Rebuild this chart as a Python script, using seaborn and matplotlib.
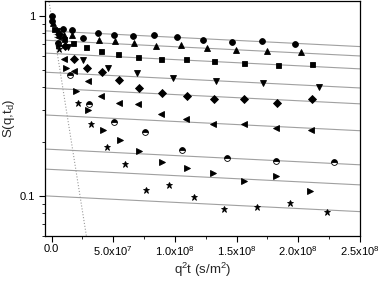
import numpy as np
import pandas as pd
import matplotlib
matplotlib.use('Agg')
import matplotlib.pyplot as plt
import seaborn as sns
from matplotlib.ticker import FixedLocator, FixedFormatter, NullFormatter

# q^2 t values in units of 1e7 s/m^2, S(q,t_d)
x_circle = [0.0, 0.05, 0.94, 1.62, 2.57, 3.74, 5.06, 6.58, 8.31, 10.20, 12.31, 14.62, 17.05, 19.76]
y_circle = [1.0, 0.938, 0.847, 0.833, 0.755, 0.798, 0.784, 0.774, 0.784, 0.761, 0.733, 0.717, 0.721, 0.696]

x_tri_up = [0.15, 1.04, 1.67, 3.82, 5.14, 6.71, 8.47, 10.50, 12.59, 14.94, 17.51, 20.22]
y_tri_up = [0.907, 0.781, 0.784, 0.730, 0.721, 0.703, 0.681, 0.688, 0.659, 0.645, 0.637, 0.626]

x_square = [0.23, 1.00, 1.75, 2.76, 4.00, 5.41, 7.03, 8.88, 10.91, 13.20, 15.61, 18.33, 21.14]
y_square = [0.844, 0.742, 0.703, 0.667, 0.639, 0.610, 0.587, 0.577, 0.573, 0.560, 0.548, 0.532, 0.539]

x_tri_down = [0.43, 1.30, 2.57, 4.55, 6.90, 9.87, 13.32, 17.18, 21.65]
y_tri_down = [0.822, 0.673, 0.567, 0.510, 0.482, 0.452, 0.434, 0.421, 0.403]

x_diamond = [0.59, 1.10, 1.84, 2.84, 4.06, 5.46, 7.09, 8.93, 11.01, 13.20, 15.64, 18.32, 21.14]
y_diamond = [0.796, 0.683, 0.575, 0.514, 0.485, 0.439, 0.398, 0.373, 0.359, 0.346, 0.343, 0.329, 0.343]

x_tri_left = [0.51, 1.02, 1.84, 2.92, 4.00, 5.46, 6.98, 8.88, 10.91, 13.07, 15.61, 18.21, 21.03]
y_tri_left = [0.761, 0.573, 0.493, 0.435, 0.359, 0.329, 0.322, 0.283, 0.268, 0.252, 0.252, 0.237, 0.232]

x_half = [0.54, 1.49, 3.05, 5.06, 7.60, 10.60, 14.21, 18.21, 22.87]
y_half = [0.708, 0.471, 0.323, 0.256, 0.225, 0.179, 0.163, 0.156, 0.153]

x_tri_right = [0.63, 1.16, 1.97, 2.95, 4.14, 5.55, 7.11, 8.98, 10.96, 13.12, 15.61, 18.19, 20.97]
y_tri_right = [0.688, 0.510, 0.382, 0.299, 0.232, 0.204, 0.178, 0.153, 0.142, 0.134, 0.121, 0.129, 0.106]

x_star = [0.63, 2.11, 3.17, 4.47, 5.95, 7.63, 9.52, 11.58, 13.99, 16.63, 19.35, 22.33]
y_star = [0.653, 0.326, 0.252, 0.186, 0.151, 0.108, 0.114, 0.0988, 0.0844, 0.0869, 0.0908, 0.0815]

# fitted plateau lines: S = amp * exp(-rate * q^2 t)
fit_amp = [0.822, 0.729, 0.618, 0.484, 0.395, 0.280, 0.181, 0.140, 0.0994]
fit_rate = 7.9e-10
# free diffusion line (dotted)
free_amp = 0.98
free_rate = 9.9e-8

series = [
    (x_circle, y_circle, 'o', 4.2, 'full'),
    (x_tri_up, y_tri_up, '^', 4.4, 'full'),
    (x_square, y_square, 's', 3.6, 'full'),
    (x_tri_down, y_tri_down, 'v', 4.4, 'full'),
    (x_diamond, y_diamond, 'D', 3.6, 'full'),
    (x_tri_left, y_tri_left, '<', 4.4, 'full'),
    (x_half, y_half, 'o', 4.2, 'top'),
    (x_tri_right, y_tri_right, '>', 4.4, 'full'),
    (x_star, y_star, '*', 4.8, 'full'),
]

sns.set_style('ticks')
plt.rcParams['font.family'] = ['Liberation Sans', 'DejaVu Sans']
plt.rcParams['mathtext.default'] = 'regular'

fig, ax = plt.subplots(figsize=(3.8, 2.83), dpi=100)
fig.subplots_adjust(left=0.118, right=0.947, top=0.996, bottom=0.166)

x_left, x_right = -0.544e7, 2.5e8
xs = np.linspace(x_left, x_right, 50)
for amp in fit_amp:
    sns.lineplot(x=xs, y=amp * np.exp(-fit_rate * xs), ax=ax, color='#a0a0a0',
                 linewidth=0.8, zorder=1)

xf = np.linspace(-0.5e7, 3.2e7, 30)
sns.lineplot(x=xf, y=free_amp * np.exp(-free_rate * xf), ax=ax, color='#9a9a9a',
             linewidth=0.8, linestyle=':', zorder=1)

for xv, yv, m, ms, fs in series:
    df = pd.DataFrame({'x': np.array(xv) * 1e7, 'y': yv})
    sns.lineplot(data=df, x='x', y='y', ax=ax, linestyle='', marker=m,
                 markersize=ms, color='black', markeredgecolor='black',
                 fillstyle=fs, markerfacecoloralt='white', markeredgewidth=0.6,
                 zorder=3)

ax.set_yscale('log')
ax.set_xlim(x_left, x_right)
ax.set_ylim(0.0597, 1.207)

ax.xaxis.set_major_locator(FixedLocator([0, 5e7, 1e8, 1.5e8, 2e8, 2.5e8]))
ax.xaxis.set_major_formatter(FixedFormatter(
    ['0.0', '5.0x10$^{7}$', '1.0x10$^{8}$', '1.5x10$^{8}$', '2.0x10$^{8}$', '2.5x10$^{8}$']))
ax.xaxis.set_minor_locator(FixedLocator([2.5e7, 7.5e7, 1.25e8, 1.75e8, 2.25e8]))

ax.yaxis.set_major_locator(FixedLocator([0.1, 1.0]))
ax.yaxis.set_major_formatter(FixedFormatter(['0.1', '1']))
ax.yaxis.set_minor_locator(FixedLocator([0.06, 0.07, 0.08, 0.09, 0.2, 0.3, 0.4,
                                         0.5, 0.6, 0.7, 0.8, 0.9]))
ax.yaxis.set_minor_formatter(NullFormatter())

ax.tick_params(which='major', direction='out', length=4, width=0.8,
               labelsize=8, colors='black', pad=2)
ax.tick_params(which='minor', direction='out', length=2.5, width=0.7)
ax.tick_params(axis='y', which='major', pad=3)
for sp in ax.spines.values():
    sp.set_visible(True)
    sp.set_linewidth(0.9)
    sp.set_color('black')

ax.set_xlabel('q$^2$t (s/m$^2$)', fontsize=9.5, labelpad=2)
ax.set_ylabel('S(q,t$_d$)', fontsize=9.5, labelpad=2)

fig.savefig('out.png', dpi=100)
